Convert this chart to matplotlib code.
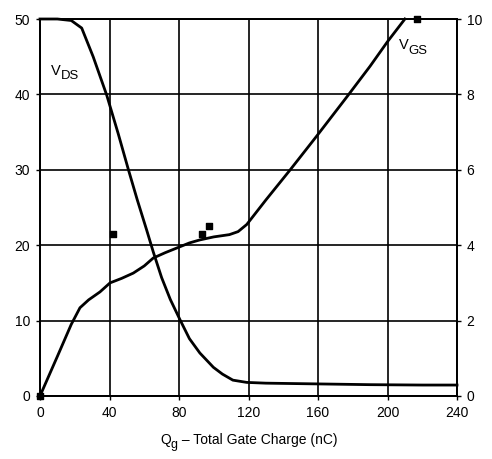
import matplotlib.pyplot as plt
import numpy as np
from matplotlib import transforms

plt.rcParams["font.family"] = ["Liberation Sans", "DejaVu Sans"]

# Drain-source voltage (left axis, V) vs total gate charge (nC)
vds_q = [0, 10, 18, 24, 30.6, 38.4, 45, 50.9, 56, 61.4, 65.2, 70, 75, 80.6, 86, 92, 99.8, 105, 111, 119, 130, 145, 160, 190, 220, 240]
vds_v = [50, 50, 49.8, 48.8, 45, 39.9, 34.8, 30, 26, 22, 19.1, 15.7, 12.8, 10.1, 7.6, 5.7, 3.8, 2.9, 2.1, 1.8, 1.7, 1.65, 1.6, 1.5, 1.45, 1.45]

# Gate-source voltage (right axis, V)
vgs_q = [0, 10, 18, 23, 28, 34.5, 40.3, 47, 53.7, 60, 65.2, 72, 80.6, 86, 92, 100, 109, 114, 119, 130, 144, 159, 176.7, 190, 200, 210]
vgs_v = [0, 1.05, 1.9, 2.34, 2.55, 2.76, 3.0, 3.12, 3.26, 3.45, 3.66, 3.8, 3.96, 4.06, 4.14, 4.22, 4.28, 4.36, 4.55, 5.2, 6.0, 6.88, 7.94, 8.75, 9.4, 10.0]

# Small square markers
mark_q = [0, 42, 93, 97.3, 217]
mark_v = [0, 21.5, 21.5, 22.5, 50]


# Draw a label with a large, lowered subscript (datasheet style).
def sub_label(axis, x, y, main, sub, size, transform=None):
    fig = axis.figure
    if transform is None:
        transform = axis.transData
    base = axis.text(x, y, main, fontsize=size, transform=transform, va="baseline", ha="left")
    fig.canvas.draw()
    bbox = base.get_window_extent()
    offset = transforms.offset_copy(transform, fig=fig, x=bbox.width / fig.dpi * 72, y=-size * 0.3, units="points")
    axis.text(x, y, sub, fontsize=size * 0.9, transform=offset, va="baseline", ha="left")
    return base


fig = plt.figure(figsize=(4.92, 4.59), dpi=100)
ax = fig.add_axes([0.0813, 0.1373, 0.8476, 0.8213])
ax2 = ax.twinx()

ax.set_xlim(0, 240)
ax.set_ylim(0, 50)
ax2.set_ylim(0, 10)
ax.set_xticks(np.arange(0, 241, 40))
ax.set_yticks(np.arange(0, 51, 10))
ax2.set_yticks(np.arange(0, 11, 2))

ax.grid(True, color="black", linewidth=1.2)
ax.set_axisbelow(True)
for axis in (ax, ax2):
    for spine in axis.spines.values():
        spine.set_linewidth(1.3)
    axis.tick_params(length=3, width=1.0, pad=4, labelsize=10, colors="black")

ax.plot(vds_q, vds_v, color="black", linewidth=2.0, clip_on=False, zorder=3)
ax2.plot(vgs_q, vgs_v, color="black", linewidth=2.0, clip_on=False, zorder=3)
ax.scatter(mark_q, mark_v, marker="s", s=22, color="black", clip_on=False, zorder=4)

sub_label(ax, 6.5, 42.6, "V", "DS", 10.5)
sub_label(ax, 206.5, 46.0, "V", "GS", 10.5)

# x label with subscript g
label_x = 0.5
label_y = -0.128
lbl_t = ax.transAxes
t1 = ax.text(0.0, 0.0, "Q", fontsize=10, transform=lbl_t)
t2 = ax.text(0.0, 0.0, "g", fontsize=9, transform=lbl_t)
t3 = ax.text(0.0, 0.0, " – Total Gate Charge (nC)", fontsize=10, transform=lbl_t)
fig.canvas.draw()
w1 = t1.get_window_extent().width
w2 = t2.get_window_extent().width
w3 = t3.get_window_extent().width
ax_w = ax.get_window_extent().width
total = w1 + w2 + w3
x0 = label_x - total / 2 / ax_w
t1.set_position((x0, label_y))
t2.set_transform(transforms.offset_copy(lbl_t, fig=fig, x=0, y=-3, units="points"))
t2.set_position((x0 + w1 / ax_w, label_y))
t3.set_position((x0 + (w1 + w2) / ax_w, label_y))

fig.savefig("out.png", dpi=100)
